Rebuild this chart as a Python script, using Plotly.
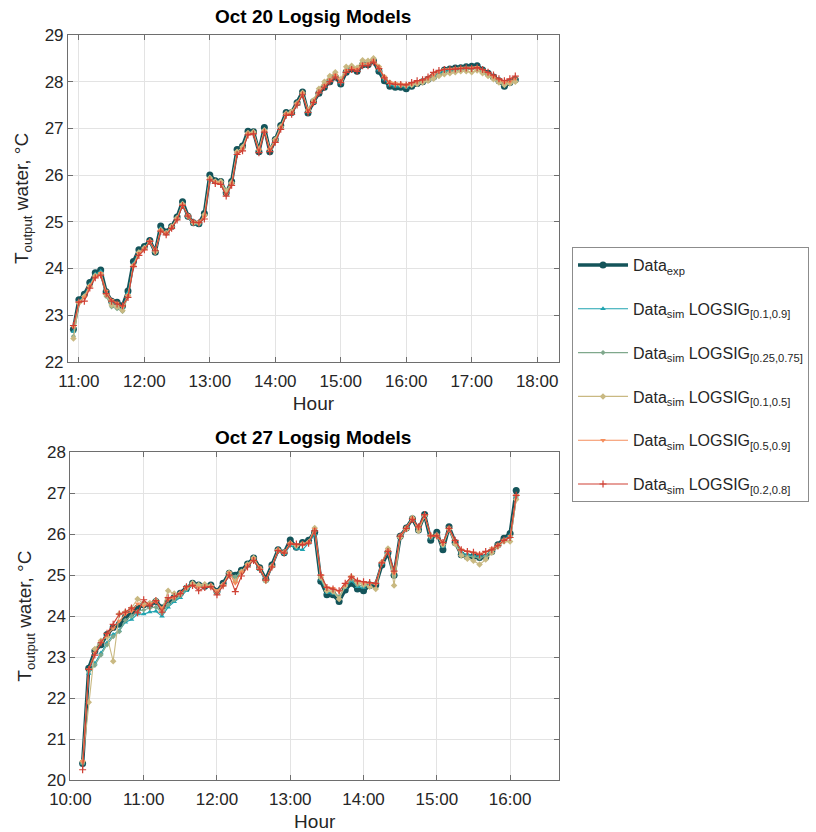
import pandas as pd
import plotly.graph_objects as go

# ---- Oct 20: outlet water temperature, 5-minute samples ----
t_oct20 = pd.date_range("2020-10-20 10:55", "2020-10-20 17:40", freq="5min")
exp_oct20 = [22.70, 23.33, 23.45, 23.70, 23.91, 23.97, 23.50, 23.30, 23.28, 23.20,
             23.52, 24.15, 24.40, 24.47, 24.60, 24.35, 24.91, 24.78, 24.90, 25.10,
             25.43, 25.12, 24.98, 24.96, 25.18, 26.00, 25.88, 25.86, 25.62, 25.86,
             26.55, 26.62, 26.94, 26.93, 26.50, 27.02, 26.50, 26.76, 27.06, 27.34,
             27.34, 27.55, 27.78, 27.33, 27.57, 27.75, 27.88, 28.00, 28.10, 27.95,
             28.20, 28.27, 28.22, 28.36, 28.36, 28.44, 28.22, 28.02, 27.90, 27.88,
             27.88, 27.85, 27.90, 27.96, 28.00, 28.05, 28.10, 28.18, 28.25, 28.27,
             28.29, 28.30, 28.32, 28.33, 28.34, 28.25, 28.18, 28.10, 28.02, 27.90,
             27.98, 28.04]
sim_a_oct20 = [22.65, 23.30, 23.42, 23.66, 23.88, 23.94, 23.46, 23.26, 23.24, 23.16,
               23.48, 24.10, 24.36, 24.45, 24.58, 24.36, 24.86, 24.76, 24.88, 25.08,
               25.40, 25.10, 24.97, 24.95, 25.15, 25.96, 25.86, 25.84, 25.62, 25.83,
               26.50, 26.58, 26.90, 26.90, 26.50, 26.98, 26.52, 26.74, 27.03, 27.31,
               27.33, 27.53, 27.75, 27.35, 27.55, 27.76, 27.90, 28.02, 28.12, 27.97,
               28.22, 28.28, 28.24, 28.38, 28.38, 28.45, 28.25, 28.05, 27.93, 27.90,
               27.90, 27.88, 27.92, 27.97, 28.02, 28.06, 28.11, 28.18, 28.24, 28.26,
               28.27, 28.28, 28.30, 28.30, 28.31, 28.24, 28.17, 28.10, 28.03, 27.94,
               27.99, 28.05]
sim_b_oct20 = [22.55, 23.28, 23.40, 23.64, 23.86, 23.90, 23.40, 23.18, 23.14, 23.08,
               23.40, 24.08, 24.35, 24.44, 24.56, 24.34, 24.84, 24.75, 24.88, 25.06,
               25.38, 25.10, 24.96, 24.95, 25.14, 25.95, 25.85, 25.84, 25.64, 25.82,
               26.50, 26.58, 26.88, 26.90, 26.52, 26.96, 26.54, 26.74, 27.02, 27.30,
               27.34, 27.52, 27.74, 27.36, 27.56, 27.80, 27.95, 28.08, 28.15, 28.00,
               28.26, 28.30, 28.26, 28.42, 28.42, 28.48, 28.28, 28.08, 27.96, 27.94,
               27.92, 27.90, 27.94, 27.98, 28.00, 28.05, 28.10, 28.16, 28.20, 28.22,
               28.24, 28.25, 28.26, 28.27, 28.28, 28.22, 28.15, 28.08, 28.00, 27.95,
               27.98, 28.02]
sim_c_oct20 = [22.50, 23.26, 23.40, 23.62, 23.84, 23.88, 23.44, 23.22, 23.18, 23.10,
               23.42, 24.06, 24.34, 24.44, 24.58, 24.36, 24.82, 24.76, 24.90, 25.08,
               25.38, 25.12, 24.98, 24.98, 25.15, 25.94, 25.86, 25.86, 25.66, 25.84,
               26.50, 26.60, 26.90, 26.92, 26.55, 26.96, 26.56, 26.76, 27.04, 27.32,
               27.36, 27.54, 27.76, 27.40, 27.60, 27.85, 28.00, 28.12, 28.20, 28.05,
               28.32, 28.34, 28.30, 28.46, 28.45, 28.50, 28.32, 28.10, 27.98, 27.95,
               27.93, 27.92, 27.93, 27.95, 27.98, 28.02, 28.06, 28.12, 28.16, 28.18,
               28.20, 28.22, 28.22, 28.20, 28.24, 28.18, 28.12, 28.05, 27.98, 27.93,
               27.96, 28.00]
sim_d_oct20 = [22.75, 23.28, 23.38, 23.62, 23.82, 23.90, 23.52, 23.32, 23.26, 23.18,
               23.42, 24.06, 24.32, 24.42, 24.58, 24.40, 24.82, 24.74, 24.86, 25.05,
               25.36, 25.14, 25.00, 24.98, 25.10, 25.90, 25.84, 25.82, 25.58, 25.80,
               26.46, 26.55, 26.88, 26.88, 26.52, 26.94, 26.54, 26.72, 27.00, 27.30,
               27.32, 27.52, 27.74, 27.36, 27.56, 27.78, 27.92, 28.04, 28.14, 28.00,
               28.24, 28.28, 28.26, 28.38, 28.38, 28.45, 28.30, 28.10, 27.98, 27.96,
               27.95, 27.94, 27.96, 28.00, 28.03, 28.08, 28.14, 28.22, 28.26, 28.27,
               28.28, 28.29, 28.30, 28.30, 28.31, 28.25, 28.18, 28.10, 28.04, 27.98,
               28.00, 28.06]
sim_e_oct20 = [22.78, 23.28, 23.30, 23.58, 23.80, 23.86, 23.46, 23.30, 23.24, 23.20,
               23.38, 24.04, 24.28, 24.40, 24.58, 24.38, 24.80, 24.72, 24.86, 25.04,
               25.35, 25.12, 24.99, 24.98, 25.06, 25.90, 25.82, 25.80, 25.55, 25.78,
               26.44, 26.52, 26.86, 26.88, 26.48, 26.92, 26.50, 26.70, 26.98, 27.28,
               27.30, 27.50, 27.72, 27.34, 27.55, 27.76, 27.88, 28.00, 28.10, 27.98,
               28.20, 28.26, 28.22, 28.34, 28.34, 28.42, 28.28, 28.08, 27.96, 27.94,
               27.94, 27.93, 27.98, 28.02, 28.04, 28.10, 28.20, 28.24, 28.26, 28.26,
               28.27, 28.28, 28.29, 28.28, 28.30, 28.26, 28.20, 28.14, 28.06, 28.02,
               28.06, 28.12]

# ---- Oct 27: outlet water temperature, 5-minute samples ----
t_oct27 = pd.date_range("2020-10-27 10:10", "2020-10-27 16:05", freq="5min")
exp_oct27 = [20.40, 22.73, 23.15, 23.30, 23.55, 23.72, 23.80, 23.97, 24.08, 24.20,
             24.28, 24.28, 24.36, 24.20, 24.36, 24.46, 24.56, 24.68, 24.80, 24.76,
             24.73, 24.76, 24.60, 24.80, 25.05, 25.00, 25.12, 25.27, 25.42, 25.18,
             24.90, 25.25, 25.62, 25.55, 25.86, 25.68, 25.80, 25.85, 26.05, 24.85,
             24.52, 24.52, 24.36, 24.64, 24.80, 24.66, 24.62, 24.75, 24.76, 25.25,
             25.55, 25.00, 25.95, 26.15, 26.38, 26.10, 26.48, 25.85, 26.05, 25.62,
             26.18, 25.80, 25.50, 25.45, 25.46, 25.43, 25.44, 25.58, 25.74, 25.90,
             26.02, 27.07]
sim_a_oct27 = [20.40, 22.60, 22.85, 23.10, 23.35, 23.55, 23.65, 23.85, 23.92, 24.05,
               24.05, 24.10, 24.12, 24.00, 24.22, 24.35, 24.45, 24.62, 24.75, 24.72,
               24.72, 24.74, 24.58, 24.78, 25.00, 24.95, 25.08, 25.24, 25.40, 25.15,
               24.86, 25.22, 25.58, 25.52, 25.72, 25.65, 25.62, 25.78, 26.00, 24.90,
               24.58, 24.56, 24.45, 24.70, 24.86, 24.72, 24.70, 24.80, 24.80, 25.28,
               25.58, 25.02, 25.96, 26.15, 26.38, 26.12, 26.46, 25.90, 26.00, 25.70,
               26.15, 25.78, 25.55, 25.50, 25.48, 25.46, 25.48, 25.60, 25.74, 25.88,
               25.98, 26.90]
sim_b_oct27 = [20.40, 22.65, 22.80, 23.05, 23.30, 23.50, 23.62, 23.90, 24.00, 24.12,
               24.15, 24.20, 24.22, 24.08, 24.28, 24.40, 24.50, 24.66, 24.78, 24.74,
               24.75, 24.75, 24.60, 24.78, 25.04, 24.96, 25.10, 25.26, 25.40, 25.16,
               24.88, 25.22, 25.58, 25.54, 25.78, 25.70, 25.76, 25.82, 26.06, 24.92,
               24.62, 24.60, 24.48, 24.72, 24.90, 24.76, 24.74, 24.82, 24.80, 25.30,
               25.60, 24.98, 25.95, 26.16, 26.38, 26.12, 26.46, 25.92, 26.00, 25.72,
               26.14, 25.78, 25.52, 25.46, 25.45, 25.42, 25.46, 25.60, 25.72, 25.86,
               25.92, 26.92]
sim_c_oct27 = [20.45, 21.90, 23.20, 23.40, 23.50, 22.90, 24.05, 24.10, 24.20, 24.42,
               24.30, 24.32, 24.38, 24.15, 24.62, 24.55, 24.55, 24.70, 24.80, 24.76,
               24.78, 24.74, 24.58, 24.76, 25.06, 24.85, 25.08, 25.26, 25.42, 25.16,
               24.86, 25.22, 25.62, 25.56, 25.78, 25.72, 25.76, 25.80, 26.15, 24.95,
               24.62, 24.60, 24.42, 24.74, 24.96, 24.82, 24.78, 24.72, 24.66, 25.32,
               25.65, 24.75, 25.92, 26.12, 26.40, 26.08, 26.45, 25.96, 25.95, 25.75,
               26.12, 25.76, 25.48, 25.40, 25.35, 25.26, 25.38, 25.55, 25.70, 25.82,
               25.82, 26.85]
sim_d_oct27 = [20.45, 22.70, 23.10, 23.35, 23.55, 23.70, 23.88, 24.05, 24.12, 24.30,
               24.25, 24.30, 24.35, 24.20, 24.40, 24.45, 24.55, 24.70, 24.75, 24.70,
               24.72, 24.72, 24.62, 24.75, 25.06, 24.80, 25.08, 25.25, 25.40, 25.18,
               24.88, 25.20, 25.60, 25.55, 25.78, 25.74, 25.76, 25.80, 26.12, 25.00,
               24.70, 24.68, 24.60, 24.78, 24.96, 24.86, 24.82, 24.80, 24.78, 25.30,
               25.60, 25.05, 25.96, 26.16, 26.38, 26.14, 26.46, 25.96, 25.98, 25.78,
               26.16, 25.82, 25.62, 25.58, 25.55, 25.52, 25.56, 25.65, 25.74, 25.86,
               25.95, 26.95]
sim_e_oct27 = [20.25, 22.70, 23.05, 23.35, 23.58, 23.80, 24.05, 24.10, 24.20, 24.08,
               24.40, 24.25, 24.38, 24.10, 24.45, 24.48, 24.55, 24.72, 24.75, 24.62,
               24.70, 24.72, 24.52, 24.74, 25.00, 24.60, 24.98, 25.20, 25.36, 25.14,
               24.88, 25.20, 25.60, 25.54, 25.76, 25.76, 25.74, 25.78, 26.08, 25.00,
               24.70, 24.66, 24.62, 24.80, 24.96, 24.86, 24.84, 24.82, 24.80, 25.30,
               25.58, 25.10, 25.95, 26.14, 26.36, 26.18, 26.48, 25.96, 25.96, 25.80,
               26.14, 25.85, 25.62, 25.58, 25.56, 25.50, 25.58, 25.62, 25.72, 25.85,
               25.92, 26.95]

series_names = [
    "Data<sub>exp</sub>",
    "Data<sub>sim</sub> LOGSIG<sub>[0.1,0.9]</sub>",
    "Data<sub>sim</sub> LOGSIG<sub>[0.25,0.75]</sub>",
    "Data<sub>sim</sub> LOGSIG<sub>[0.1,0.5]</sub>",
    "Data<sub>sim</sub> LOGSIG<sub>[0.5,0.9]</sub>",
    "Data<sub>sim</sub> LOGSIG<sub>[0.2,0.8]</sub>",
]

colors = ["#14545a", "#1fa3b0", "#7fa88c", "#c9b982", "#f58e5c", "#cf4034"]
styles = [
    dict(width=3.5, symbol="circle", size=7),
    dict(width=1.1, symbol="triangle-up", size=5),
    dict(width=1.1, symbol="diamond", size=4),
    dict(width=1.1, symbol="diamond", size=5),
    dict(width=1.1, symbol="triangle-down", size=5),
    dict(width=1.1, symbol="cross-thin", size=5),
]

oct20 = [exp_oct20, sim_a_oct20, sim_b_oct20, sim_c_oct20, sim_d_oct20, sim_e_oct20]
oct27 = [exp_oct27, sim_a_oct27, sim_b_oct27, sim_c_oct27, sim_d_oct27, sim_e_oct27]

FONT = "Liberation Sans, Arial, sans-serif"
TXT = "#262626"

fig = go.Figure()


def add_day(times, data, xa, ya, show):
    for i, (vals, name, col, st) in enumerate(zip(data, series_names, colors, styles)):
        marker = dict(symbol=st["symbol"], size=st["size"], color=col)
        if st["symbol"] == "cross-thin":
            marker["line"] = dict(width=1.2, color=col)
        fig.add_trace(go.Scatter(
            x=times, y=vals, name=name, mode="lines+markers",
            line=dict(color=col, width=st["width"]), marker=marker,
            xaxis=xa, yaxis=ya, showlegend=show, legendgroup=f"g{i}",
        ))


add_day(t_oct20, oct20, "x", "y", True)
add_day(t_oct27, oct27, "x2", "y2", False)

axis_common = dict(
    showline=True, linecolor="#6e6e6e", linewidth=1, mirror="ticks",
    ticks="inside", ticklen=5, tickcolor="#6e6e6e",
    showgrid=True, gridcolor="#e3e3e3", gridwidth=1,
    zeroline=False, automargin=False,
    tickfont=dict(family=FONT, size=17, color=TXT),
)
xfmt = dict(type="date", tickformat="%H:%M", dtick=3600000, ticklabelstandoff=4,
            title=dict(text="Hour", font=dict(family=FONT, size=19, color=TXT), standoff=6))
ytitle = dict(text="T<sub>output</sub> water, °C", font=dict(family=FONT, size=19, color=TXT), standoff=10)

fig.update_layout(
    width=816, height=832,
    margin=dict(l=0, r=0, t=0, b=0),
    paper_bgcolor="white", plot_bgcolor="white",
    font=dict(family=FONT, color=TXT),
    xaxis=dict(**axis_common, **xfmt, domain=[0.0833, 0.685], anchor="y",
               range=["2020-10-20 10:50", "2020-10-20 18:20"]),
    yaxis=dict(**axis_common, domain=[0.565, 0.958], anchor="x",
               range=[22, 29], dtick=1, title=ytitle),
    xaxis2=dict(**axis_common, **xfmt, domain=[0.0863, 0.685], anchor="y2",
                range=["2020-10-27 10:00", "2020-10-27 16:40"]),
    yaxis2=dict(**axis_common, domain=[0.0625, 0.4564], anchor="x2",
                range=[20, 28], dtick=1, title=ytitle),
    legend=dict(
        x=0.701, y=0.703, xanchor="left", yanchor="top",
        bgcolor="white", bordercolor="#8c8c8c", borderwidth=1,
        font=dict(family=FONT, size=16, color=TXT),
        traceorder="grouped", tracegroupgap=20, itemwidth=50,
    ),
    annotations=[
        dict(text="<b>Oct 20 Logsig Models</b>", x=0.384, y=1 - 17 / 832,
             xref="paper", yref="paper", xanchor="center", yanchor="middle",
             showarrow=False, font=dict(family=FONT, size=19, color="#000000")),
        dict(text="<b>Oct 27 Logsig Models</b>", x=0.384, y=1 - 437 / 832,
             xref="paper", yref="paper", xanchor="center", yanchor="middle",
             showarrow=False, font=dict(family=FONT, size=19, color="#000000")),
    ],
)

fig.write_html("out.html")
